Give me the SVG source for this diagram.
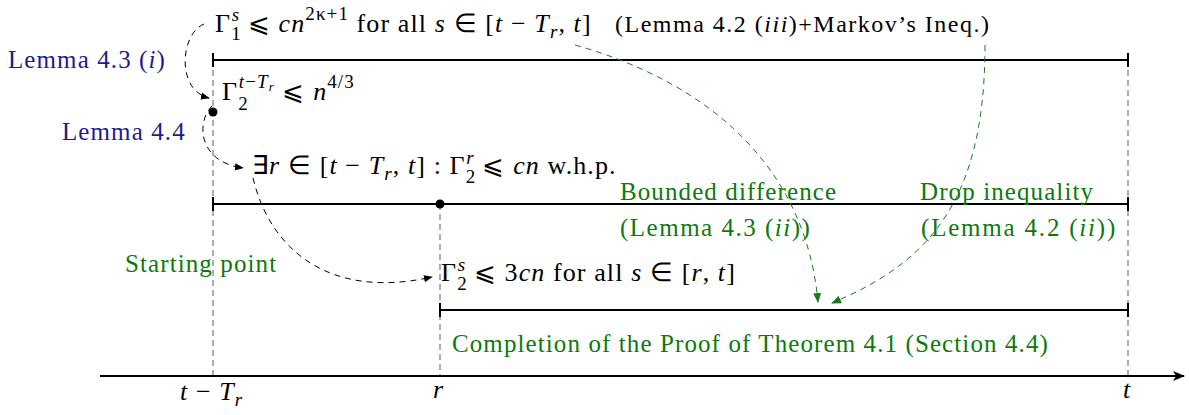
<svg xmlns="http://www.w3.org/2000/svg" width="1189" height="415" viewBox="0 0 1189 415">
<defs>
<style>
text{font-family:"Liberation Serif","Times New Roman",serif;}
.m{font-size:26px;fill:#000;letter-spacing:1.1px;}
.i{font-style:italic;}
.sc{font-size:19px;}
.g{font-size:25px;fill:#0b7a0b;letter-spacing:1.1px;}
.b{font-size:25px;fill:#1c1c8f;letter-spacing:1.1px;}
.iv{stroke:#000;stroke-width:2;fill:none;}
.vd{stroke:#808080;stroke-width:1.3;stroke-dasharray:6 4;fill:none;}
.ca{stroke:#000;stroke-width:1;stroke-dasharray:6 5;fill:none;marker-end:url(#ab);}
.cg{stroke:#1a7a1a;stroke-width:1;stroke-dasharray:6 5;fill:none;marker-end:url(#ag);}
</style>
<marker id="ab" viewBox="0 0 10 10" refX="9" refY="5" markerWidth="9" markerHeight="9" markerUnits="userSpaceOnUse" orient="auto"><path d="M0,1 L10,5 L0,9 Z" fill="#000"/></marker>
<marker id="ag" viewBox="0 0 10 10" refX="9" refY="5" markerWidth="10" markerHeight="10" markerUnits="userSpaceOnUse" orient="auto"><path d="M0,1 L10,5 L0,9 Z" fill="#1a7a1a"/></marker>
<marker id="ax" viewBox="0 0 12 10" refX="11" refY="5" markerWidth="12" markerHeight="10" markerUnits="userSpaceOnUse" orient="auto"><path d="M0,0 L12,5 L0,10 L3,5 Z" fill="#000"/></marker>
</defs>

<g id="guides">
<line class="vd" x1="213" y1="60" x2="213" y2="376"/>
<line class="vd" x1="440" y1="204" x2="440" y2="376"/>
<line class="vd" x1="1128" y1="60" x2="1128" y2="376"/>
</g>

<g id="axis">
<line x1="100" y1="376" x2="1184" y2="376" stroke="#000" stroke-width="2" marker-end="url(#ax)"/>
<text class="m" x="180" y="400"><tspan class="i">t</tspan> − <tspan class="i">T</tspan><tspan class="sc i" dy="6">r</tspan></text>
<text class="m i" x="433" y="398">r</text>
<text class="m i" x="1123" y="398">t</text>
</g>

<g id="interval1">
<path class="iv" d="M213,60 H1128 M213,53 V67 M1128,53 V67"/>
</g>
<g id="interval2">
<path class="iv" d="M213,204 H1128 M213,197 V211 M1128,197 V211"/>
<circle cx="440" cy="204" r="4.5" fill="#000"/>
</g>
<g id="interval3">
<path class="iv" d="M440,310 H1128 M440,303 V317 M1128,303 V317"/>
</g>
<g id="start-dot">
<circle cx="213" cy="112" r="4.5" fill="#000"/>
</g>

<g id="node-gamma1">
<text class="m" x="215" y="32">Γ<tspan class="sc" dy="8">1</tspan><tspan class="sc i" dx="-10" dy="-19">s</tspan><tspan dy="11"> ⩽ </tspan><tspan class="i">cn</tspan><tspan class="sc" dy="-12">2κ+1</tspan><tspan dy="12"> for all </tspan><tspan class="i">s</tspan> ∈ [<tspan class="i">t</tspan> − <tspan class="i">T</tspan><tspan class="sc i" dy="6">r</tspan><tspan dy="-6">, </tspan><tspan class="i">t</tspan>]</text>
<text class="m" x="615" y="32" style="font-size:24px;letter-spacing:1.5px">(Lemma 4.2 (<tspan class="i">iii</tspan>)+Markov’s Ineq.)</text>
</g>

<g id="node-gamma2-start">
<text class="m" x="222" y="100">Γ<tspan class="sc" dy="10">2</tspan><tspan class="sc i" dx="-10" dy="-22">t</tspan><tspan class="sc">−</tspan><tspan class="sc i">T</tspan><tspan class="i" font-size="13" dy="3">r</tspan><tspan dy="9"> ⩽ </tspan><tspan class="i">n</tspan><tspan class="sc" dy="-12">4/3</tspan></text>
</g>

<g id="node-exists">
<text class="m" x="252" y="174">∃<tspan class="i">r</tspan> ∈ [<tspan class="i">t</tspan> − <tspan class="i">T</tspan><tspan class="sc i" dy="6">r</tspan><tspan dy="-6">, </tspan><tspan class="i">t</tspan>] : Γ<tspan class="sc" dy="9">2</tspan><tspan class="sc i" dx="-10" dy="-19">r</tspan><tspan dy="10"> ⩽ </tspan><tspan class="i">cn</tspan> w.h.p.</text>
</g>

<g id="node-gamma2-all">
<text class="m" x="441" y="281">Γ<tspan class="sc" dy="9">2</tspan><tspan class="sc i" dx="-10" dy="-19">s</tspan><tspan dy="10"> ⩽ 3</tspan><tspan class="i">cn</tspan> for all <tspan class="i">s</tspan> ∈ [<tspan class="i">r</tspan>, <tspan class="i">t</tspan>]</text>
</g>

<g id="labels">
<text class="b" x="8" y="68">Lemma 4.3 (<tspan class="i">i</tspan>)</text>
<text class="b" x="62" y="140">Lemma 4.4</text>
<text class="g" x="620" y="200">Bounded difference</text>
<text class="g" x="620" y="236" style="letter-spacing:1.5px">(Lemma 4.3 (<tspan class="i">ii</tspan>))</text>
<text class="g" x="920" y="200">Drop inequality</text>
<text class="g" x="921" y="236" style="letter-spacing:1.8px">(Lemma 4.2 (<tspan class="i">ii</tspan>))</text>
<text class="g" x="125" y="272">Starting point</text>
<text class="g" x="452" y="352">Completion of the Proof of Theorem 4.1 (Section 4.4)</text>
</g>

<g id="connectors">
<path class="ca" d="M204,24 C180,34 176,90 209,98"/>
<path class="ca" d="M212,106 C196,122 198,162 243,168"/>
<path class="ca" d="M253,178 C270,250 330,300 432,277"/>
<path class="cg" d="M575,45 C700,80 805,160 818,302"/>
<path class="cg" d="M985,45 C985,200 930,262 832,303"/>
</g>
</svg>
